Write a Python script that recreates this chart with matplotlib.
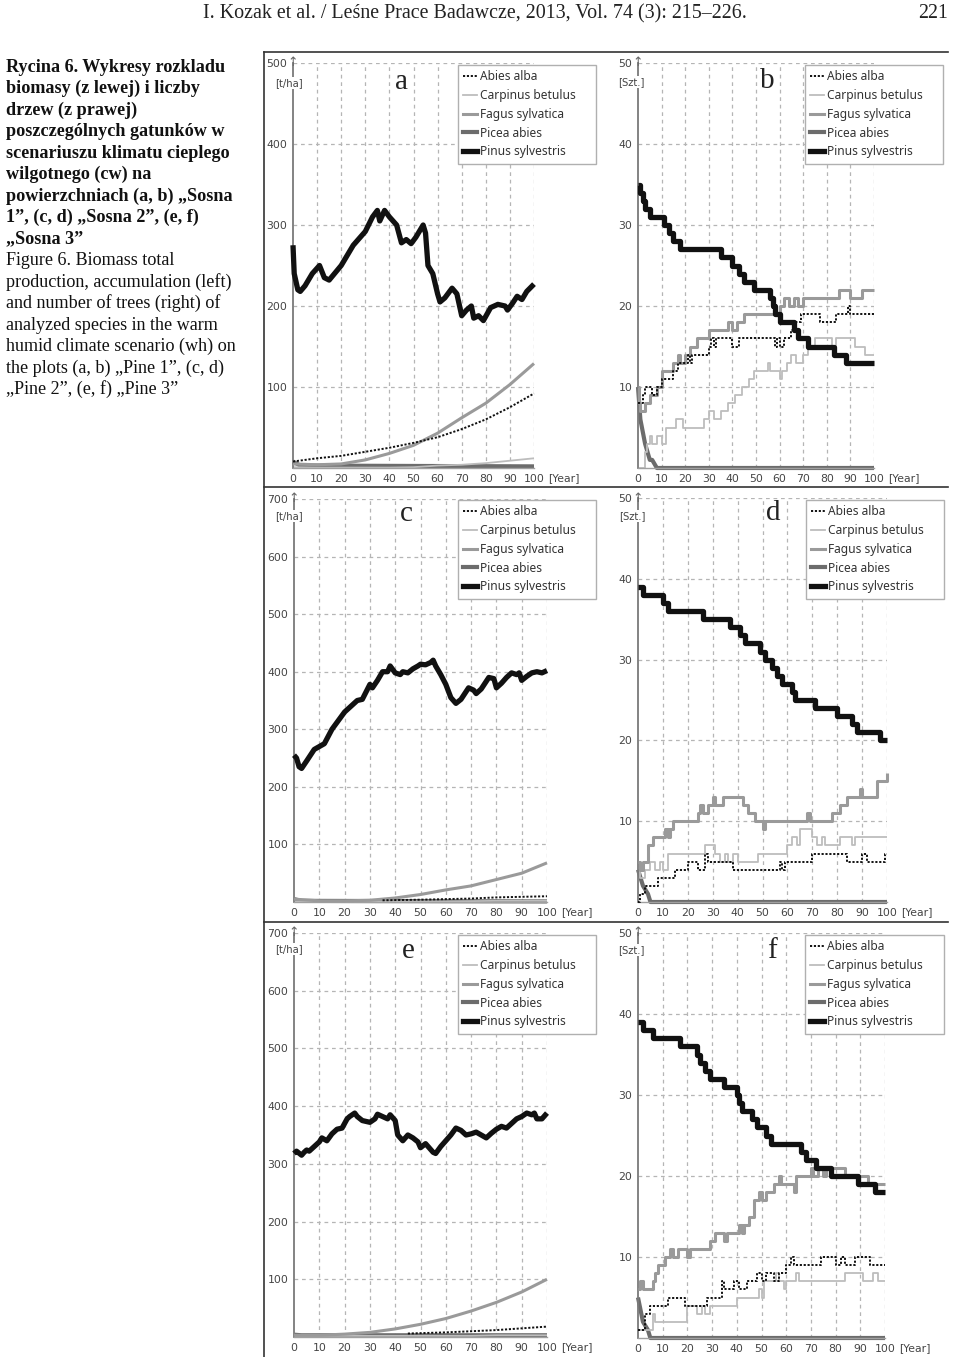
import matplotlib
matplotlib.use('Agg')
import matplotlib.pyplot as plt
from matplotlib.lines import Line2D

# ---- data ----
YEARS10 = [0, 10, 20, 30, 40, 50, 60, 70, 80, 90, 100]
SPECIES = ['Abies alba', 'Carpinus betulus', 'Fagus sylvatica', 'Picea abies', 'Pinus sylvestris']

# (a) biomass, Sosna 1
A_PINUS_X = [0, 0.5, 2, 3, 5, 8, 11, 13, 15, 20, 25, 30, 33, 35, 36, 38, 40, 43, 45, 47, 49, 51, 54, 55, 56,
             58, 60, 61, 63, 66, 68, 70, 72, 74, 75, 77, 79, 82, 85, 88, 89, 91, 93, 95, 97, 100]
A_PINUS = [275, 240, 220, 218, 225, 240, 250, 235, 232, 250, 275, 292, 310, 318, 305, 318, 310, 300, 278, 282,
           277, 285, 300, 290, 250, 240, 215, 205, 210, 222, 215, 188, 195, 200, 185, 188, 182, 198, 202, 200,
           195, 203, 212, 208, 218, 227]
A_FAGUS = [5, 4, 5, 10, 18, 28, 43, 62, 80, 103, 129]
A_ABIES = [8, 12, 15, 20, 25, 31, 38, 48, 60, 75, 92]
A_CARPINUS = [1, 0.5, 0.5, 0.5, 0.5, 1, 3, 4, 6, 9, 12]
A_PICEA_X = [0, 3, 100]
A_PICEA = [8, 3, 2]

# (b) number of trees, Sosna 1
B_PINUS_X = [0, 1, 2, 3, 5, 11, 13, 15, 18, 35, 40, 43, 45, 49, 56, 57, 58, 60, 66, 68, 72, 83, 88, 100]
B_PINUS = [35, 34, 33, 32, 31, 30, 29, 28, 27, 26, 25, 24, 23, 22, 21, 20, 19, 18, 17, 16, 15, 14, 13, 13]
B_FAGUS_X = [0, 0.5, 1, 3, 5, 8, 10, 15, 17, 18, 20, 22, 25, 30, 38, 40, 42, 45, 60, 62, 64, 66, 68, 70,
             85, 90, 95, 100]
B_FAGUS = [10, 8, 7, 8, 9, 10, 12, 13, 14, 13, 14, 15, 16, 17, 18, 17, 18, 19, 20, 21, 20, 21, 20, 21,
           22, 21, 22, 22]
B_ABIES_X = [0, 2, 3, 6, 8, 10, 15, 17, 21, 22, 23, 30, 31, 32, 33, 40, 43, 58, 59, 60, 62, 65, 67, 69,
             77, 84, 89, 90, 100]
B_ABIES = [8, 9, 10, 9, 10, 11, 12, 13, 14, 13, 14, 15, 16, 15, 16, 15, 16, 15, 16, 15, 16, 17, 18, 19,
           18, 19, 20, 19, 19]
B_CARPINUS_X = [0, 3, 4, 5, 6, 8, 10, 12, 16, 19, 28, 30, 32, 35, 38, 41, 44, 47, 49, 55, 56, 60, 61, 63,
                65, 67, 70, 72, 75, 82, 84, 88, 92, 96, 100]
B_CARPINUS = [0, 2, 3, 4, 3, 4, 3, 5, 6, 5, 6, 7, 6, 7, 8, 9, 10, 11, 12, 13, 12, 11, 12, 13,
              14, 13, 14, 15, 16, 15, 16, 16, 15, 14, 14]
B_PICEA_X = [0, 1, 3, 5, 6, 7, 8, 100]
B_PICEA = [10, 6, 3, 1, 1, 0.5, 0, 0]

# (c) biomass, Sosna 2
C_PINUS_X = [0, 1, 2, 3, 5, 8, 10, 12, 15, 20, 25, 27, 30, 31, 33, 35, 37, 38, 40, 42, 43, 45, 47, 49, 50,
             52, 54, 55, 56, 58, 60, 62, 64, 66, 69, 71, 72, 74, 77, 79, 80, 82, 84, 86, 88, 89, 90, 92, 94,
             96, 98, 100]
C_PINUS = [255, 250, 235, 232, 245, 265, 270, 275, 300, 330, 350, 352, 378, 372, 385, 400, 400, 410, 398, 395,
           400, 398, 405, 410, 413, 412, 416, 420, 410, 395, 378, 355, 345, 352, 372, 368, 362, 370, 390, 388,
           372, 380, 390, 398, 395, 398, 385, 392, 398, 400, 398, 402]
C_FAGUS = [5, 2, 2, 3, 7, 13, 21, 28, 39, 50, 68]
C_ABIES_X = [35, 50, 60, 70, 80, 90, 100]
C_ABIES = [3, 4, 5, 6, 8, 9, 10]
C_CARPINUS = [1, 1, 1, 1, 1, 1, 1, 1.5, 2, 2, 2]
C_PICEA_X = [0, 3, 100]
C_PICEA = [5, 2, 1]

# (d) number of trees, Sosna 2
D_PINUS_X = [0, 2, 10, 12, 26, 37, 41, 43, 49, 51, 54, 56, 58, 62, 63, 71, 80, 86, 88, 97, 100]
D_PINUS = [39, 38, 37, 36, 35, 34, 33, 32, 31, 30, 29, 28, 27, 26, 25, 24, 23, 22, 21, 20, 20]
D_FAGUS_X = [0, 1, 2, 4, 6, 11, 12, 13, 14, 24, 25, 26, 28, 30, 31, 34, 42, 44, 47, 50, 51, 68, 69, 78,
             81, 84, 89, 90, 96, 100]
D_FAGUS = [5, 4, 5, 7, 8, 9, 8, 9, 10, 11, 12, 11, 12, 13, 12, 13, 12, 11, 10, 9, 10, 11, 10, 11,
           12, 13, 14, 13, 15, 16]
D_CARPINUS_X = [0, 1, 3, 5, 7, 9, 10, 12, 27, 30, 31, 33, 35, 36, 38, 40, 48, 60, 62, 64, 65, 70, 72, 74,
                75, 81, 86, 87, 100]
D_CARPINUS = [4, 3, 4, 5, 4, 5, 4, 6, 7, 7, 6, 5, 6, 5, 6, 5, 6, 7, 8, 7, 9, 8, 7, 8, 7, 8, 7, 8, 8]
D_ABIES_X = [0, 1, 3, 8, 15, 20, 24, 27, 28, 38, 57, 58, 59, 70, 84, 90, 92, 99, 100]
D_ABIES = [0, 1, 2, 3, 4, 5, 4, 6, 5, 4, 5, 4, 5, 6, 5, 6, 5, 6, 6]
D_PICEA_X = [0, 2, 4, 5, 100]
D_PICEA = [4, 2, 1, 0, 0]

# (e) biomass, Sosna 3
E_PINUS_X = [0, 1, 3, 4, 5, 6, 8, 10, 11, 13, 15, 17, 19, 21, 22, 24, 25, 27, 30, 32, 33, 35, 37, 38, 40,
             41, 42, 43, 45, 47, 49, 50, 52, 53, 55, 56, 58, 60, 62, 64, 66, 68, 70, 72, 74, 76, 78, 80, 82,
             84, 86, 88, 90, 92, 94, 95, 96, 98, 100]
E_PINUS = [318, 322, 315, 320, 324, 322, 330, 338, 345, 340, 352, 360, 362, 378, 382, 388, 382, 375, 372, 378,
           386, 382, 378, 385, 375, 350, 345, 340, 350, 345, 338, 328, 335, 330, 320, 318, 330, 340, 350, 362,
           358, 350, 352, 355, 350, 345, 353, 360, 365, 362, 370, 378, 382, 388, 385, 388, 378, 378, 388]
E_FAGUS = [3, 3, 5, 8, 14, 22, 32, 45, 60, 78, 100]
E_ABIES_X = [45, 60, 70, 80, 90, 100]
E_ABIES = [6, 8, 10, 12, 15, 18]
E_CARPINUS = [2, 2, 2, 2, 2, 2, 2, 2, 3, 3, 3]
E_PICEA_X = [0, 3, 100]
E_PICEA = [4, 3, 3]

# (f) number of trees, Sosna 3
F_PINUS_X = [0, 2, 6, 17, 24, 25, 27, 29, 35, 40, 41, 42, 46, 48, 52, 54, 66, 68, 72, 78, 89, 96, 100]
F_PINUS = [39, 38, 37, 36, 35, 34, 33, 32, 31, 30, 29, 28, 27, 26, 25, 24, 23, 22, 21, 20, 19, 18, 18]
F_FAGUS_X = [0, 1, 2, 6, 7, 8, 11, 13, 14, 16, 20, 21, 29, 31, 35, 36, 41, 42, 43, 45, 47, 49, 50, 52,
             55, 57, 58, 63, 64, 70, 71, 73, 75, 76, 84, 93, 100]
F_FAGUS = [6, 7, 6, 7, 8, 9, 10, 11, 10, 11, 10, 11, 12, 13, 12, 13, 14, 13, 14, 15, 17, 18, 17, 18,
           19, 20, 19, 18, 20, 21, 20, 21, 20, 21, 20, 19, 19]
F_ABIES_X = [0, 3, 5, 12, 19, 28, 34, 35, 39, 41, 44, 48, 50, 52, 55, 57, 60, 62, 63, 74, 80, 82, 84, 88,
             94, 100]
F_ABIES = [1, 3, 4, 5, 4, 5, 7, 6, 7, 6, 7, 8, 7, 8, 7, 8, 9, 10, 9, 10, 9, 10, 9, 10, 9, 9]
F_CARPINUS_X = [0, 6, 7, 20, 24, 26, 27, 29, 40, 49, 50, 51, 56, 57, 59, 60, 64, 65, 84, 91, 95, 97, 100]
F_CARPINUS = [1, 3, 2, 4, 3, 4, 3, 4, 5, 6, 5, 7, 8, 7, 6, 7, 8, 7, 8, 7, 8, 7, 7]
F_PICEA_X = [0, 2, 4, 5, 100]
F_PICEA = [5, 2, 1, 0, 0]

CAPTION_PL = ['Rycina 6. Wykresy rozkladu', 'biomasy (z lewej) i liczby', 'drzew (z prawej)',
              'poszczególnych gatunków w', 'scenariuszu klimatu cieplego', 'wilgotnego (cw) na',
              'powierzchniach (a, b) „Sosna', '1”, (c, d) „Sosna 2”, (e, f)', '„Sosna 3”']
CAPTION_EN = ['Figure 6. Biomass total', 'production, accumulation (left)', 'and number of trees (right) of',
              'analyzed species in the warm', 'humid climate scenario (wh) on',
              'the plots (a, b) „Pine 1”, (c, d)', '„Pine 2”, (e, f) „Pine 3”']

# ---- styles ----
W, H = 960, 1357
STYLE = {
    'Abies alba': dict(color='#111111', lw=1.4, ls=(0, (1.1, 0.9)), zorder=4),
    'Carpinus betulus': dict(color='#bdbdbd', lw=1.3, zorder=2),
    'Fagus sylvatica': dict(color='#9a9a9a', lw=2.2, zorder=3),
    'Picea abies': dict(color='#6c6c6c', lw=3.0, zorder=2),
    'Pinus sylvestris': dict(color='#111111', lw=3.8, zorder=5),
}
GRID = dict(color='#b5b5b5', lw=0.9, ls=(0, (3, 3)), zorder=1)
TICKC = '#444444'


def fx(px):
    return px / W


def fy(py):
    return 1 - py / H


fig = plt.figure(figsize=(W / 100, H / 100), dpi=100)


def panel(rect, ymax, ystep, unit, unit_pos, letter, letter_pos, leg, lines):
    x0, x100, y0, ytop = rect
    ax = fig.add_axes([fx(x0), fy(y0), fx(x100) - fx(x0), fy(ytop) - fy(y0)])
    ax.set_xlim(0, 100)
    ax.set_ylim(0, ymax)
    for gx in range(10, 101, 10):
        ax.plot([gx, gx], [0, ymax], **GRID)
    for gy in range(ystep, ymax + 1, ystep):
        ax.plot([0, 100], [gy, gy], **GRID)
    for name, xs, ys, steps in lines:
        ax.plot(xs, ys, drawstyle='steps-post' if steps else 'default', clip_on=False,
                solid_capstyle='butt', **STYLE[name])
    for s in ['top', 'right']:
        ax.spines[s].set_visible(False)
    ax.spines['left'].set_color('#7a7a7a')
    ax.spines['left'].set_linewidth(1.3)
    ax.spines['bottom'].set_color('#a0a0a0')
    ax.spines['bottom'].set_linewidth(1.0)
    ax.set_xticks(range(0, 101, 10))
    ax.set_yticks(range(ystep, ymax + 1, ystep))
    ax.tick_params(length=0, labelsize=7.8, labelcolor=TICKC, pad=4)
    ax.annotate('[Year]', xy=(100, 0), xytext=(10, -4), textcoords='offset points',
                ha='left', va='top', fontsize=7.8, color=TICKC, annotation_clip=False)
    ax.text(0, ymax, '↑', ha='center', va='center', fontsize=9, color='#666666',
            transform=ax.transData, clip_on=False)
    fig.text(fx(unit_pos[0]), fy(unit_pos[1]), unit, ha='center', va='center', fontsize=7.2,
             color=TICKC, bbox=dict(facecolor='white', edgecolor='none', pad=0.5))
    fig.text(fx(letter_pos[0]), fy(letter_pos[1]), letter, ha='center', va='center',
             fontsize=21, family='Liberation Serif', color='#222222')
    handles = [Line2D([], [], **{k: v for k, v in STYLE[n].items() if k != 'zorder'}) for n in SPECIES]
    L, T, R, B = leg
    lg = ax.legend(handles, SPECIES, loc='upper left',
                   bbox_to_anchor=(fx(L), fy(B), fx(R) - fx(L), fy(T) - fy(B)),
                   bbox_transform=fig.transFigure, mode='expand', borderaxespad=0,
                   prop=dict(family='Noto Sans', size=8.6), fancybox=False, framealpha=1,
                   edgecolor='#b0b0b0', borderpad=0.45, labelspacing=0.48, handlelength=1.1,
                   handletextpad=0.3)
    lg.get_frame().set_linewidth(1.0)
    for t in lg.get_texts():
        t.set_color('#333333')
    return ax


panel((293, 534, 468, 63), 500, 100, '[t/ha]', (289, 83), 'a', (402, 82), (458, 65, 596, 159), [
    ('Picea abies', A_PICEA_X, A_PICEA, False),
    ('Carpinus betulus', YEARS10, A_CARPINUS, False),
    ('Fagus sylvatica', YEARS10, A_FAGUS, False),
    ('Abies alba', YEARS10, A_ABIES, False),
    ('Pinus sylvestris', A_PINUS_X, A_PINUS, False)])

panel((638, 874, 468, 63), 50, 10, '[Szt.]', (631, 82), 'b', (767, 81), (805, 65, 943, 159), [
    ('Picea abies', B_PICEA_X, B_PICEA, False),
    ('Carpinus betulus', B_CARPINUS_X, B_CARPINUS, True),
    ('Fagus sylvatica', B_FAGUS_X, B_FAGUS, True),
    ('Abies alba', B_ABIES_X, B_ABIES, True),
    ('Pinus sylvestris', B_PINUS_X, B_PINUS, True)])

panel((294, 547, 902, 499), 700, 100, '[t/ha]', (289, 516), 'c', (406, 514), (458, 500, 596, 595), [
    ('Picea abies', C_PICEA_X, C_PICEA, False),
    ('Carpinus betulus', YEARS10, C_CARPINUS, False),
    ('Fagus sylvatica', YEARS10, C_FAGUS, False),
    ('Abies alba', C_ABIES_X, C_ABIES, False),
    ('Pinus sylvestris', C_PINUS_X, C_PINUS, False)])

panel((638, 887, 902, 498), 50, 10, '[Szt.]', (632, 516), 'd', (773, 513), (806, 500, 944, 595), [
    ('Picea abies', D_PICEA_X, D_PICEA, False),
    ('Carpinus betulus', D_CARPINUS_X, D_CARPINUS, True),
    ('Fagus sylvatica', D_FAGUS_X, D_FAGUS, True),
    ('Abies alba', D_ABIES_X, D_ABIES, True),
    ('Pinus sylvestris', D_PINUS_X, D_PINUS, True)])

panel((294, 547, 1337, 933), 700, 100, '[t/ha]', (289, 949), 'e', (408, 951), (458, 935, 596, 1030), [
    ('Picea abies', E_PICEA_X, E_PICEA, False),
    ('Carpinus betulus', YEARS10, E_CARPINUS, False),
    ('Fagus sylvatica', YEARS10, E_FAGUS, False),
    ('Abies alba', E_ABIES_X, E_ABIES, False),
    ('Pinus sylvestris', E_PINUS_X, E_PINUS, False)])

panel((638, 885, 1338, 933), 50, 10, '[Szt.]', (631, 950), 'f', (772, 951), (805, 935, 944, 1030), [
    ('Picea abies', F_PICEA_X, F_PICEA, False),
    ('Carpinus betulus', F_CARPINUS_X, F_CARPINUS, True),
    ('Fagus sylvatica', F_FAGUS_X, F_FAGUS, True),
    ('Abies alba', F_ABIES_X, F_ABIES, True),
    ('Pinus sylvestris', F_PINUS_X, F_PINUS, True)])

# frame lines of the figure block
for seg in [((264, 264), (52, 1357)), ((264, 948), (52, 52)), ((264, 948), (487, 487)),
            ((264, 948), (922, 922))]:
    fig.add_artist(Line2D([fx(v) for v in seg[0]], [fy(v) for v in seg[1]],
                          transform=fig.transFigure, color='#333333', lw=1.2))

# page header
fig.text(fx(475), fy(14), 'I. Kozak et al. / Leśne Prace Badawcze, 2013, Vol. 74 (3): 215–226.',
         ha='center', va='center', fontsize=14.4, family='Liberation Serif', color='#222222')
fig.text(fx(948), fy(14), '221', ha='right', va='center', fontsize=14.4,
         family='Liberation Serif', color='#222222')

# caption
for i, line in enumerate(CAPTION_PL + CAPTION_EN):
    fig.text(fx(6), fy(67 + 21.5 * i), line, ha='left', va='center', fontsize=13.1,
             family='Liberation Serif', weight='bold' if i < len(CAPTION_PL) else 'normal',
             color='#111111')

fig.savefig('out.png', dpi=100, facecolor='white')
